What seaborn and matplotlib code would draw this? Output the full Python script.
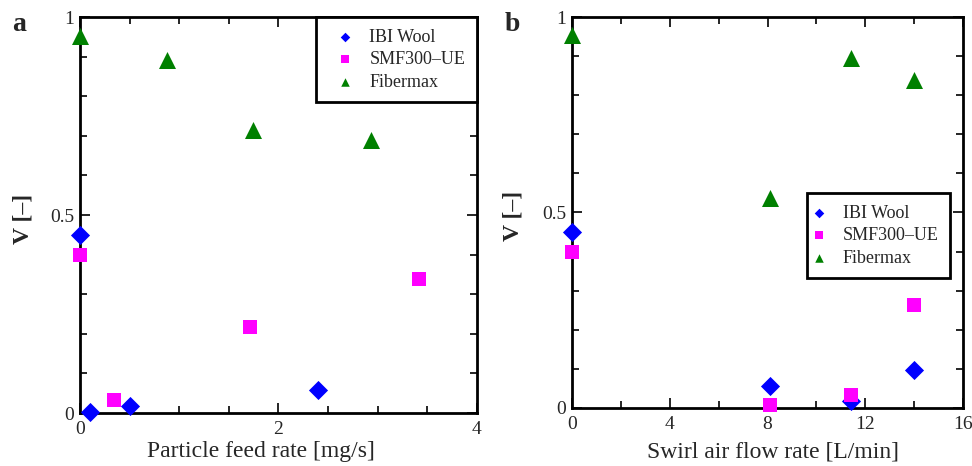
import matplotlib
matplotlib.use("Agg")
import matplotlib.pyplot as plt
from matplotlib.ticker import MultipleLocator, FuncFormatter
import seaborn as sns
import pandas as pd

# Panel a: particle feed rate [mg/s]
feed_ibi_x = [0.0, 0.10, 0.50, 2.40]
feed_ibi_v = [0.449, 0.003, 0.018, 0.059]
feed_smf_x = [0.0, 0.34, 1.71, 3.42]
feed_smf_v = [0.398, 0.032, 0.218, 0.339]
feed_fib_x = [0.0, 0.88, 1.74, 2.93]
feed_fib_v = [0.951, 0.892, 0.714, 0.689]

# Panel b: swirl air flow rate [L/min]
swirl_ibi_x = [0.0, 8.1, 11.4, 14.0]
swirl_ibi_v = [0.449, 0.055, 0.017, 0.098]
swirl_smf_x = [0.0, 8.1, 11.4, 14.0]
swirl_smf_v = [0.398, 0.007, 0.032, 0.264]
swirl_fib_x = [0.0, 8.1, 11.4, 14.0]
swirl_fib_v = [0.953, 0.536, 0.894, 0.838]

materials = ["IBI Wool", "SMF300\u2013UE", "Fibermax"]
colors = {"IBI Wool": "#0000ff", "SMF300\u2013UE": "#ff00ff", "Fibermax": "#008000"}
markers = {"IBI Wool": "D", "SMF300\u2013UE": "s", "Fibermax": "^"}
sizes = {"IBI Wool": 95, "SMF300\u2013UE": 110, "Fibermax": 150}


def frame(xs, vs):
    rows = []
    for m, x, v in zip(materials, xs, vs):
        rows += [{"material": m, "x": a, "V": b} for a, b in zip(x, v)]
    return pd.DataFrame(rows)


df_a = frame([feed_ibi_x, feed_smf_x, feed_fib_x], [feed_ibi_v, feed_smf_v, feed_fib_v])
df_b = frame([swirl_ibi_x, swirl_smf_x, swirl_fib_x], [swirl_ibi_v, swirl_smf_v, swirl_fib_v])

sns.set_style("ticks")
plt.rcParams["font.family"] = ["Liberation Serif", "DejaVu Serif"]

fig = plt.figure(figsize=(9.72, 4.66), dpi=100)
ax_a = fig.add_axes([0.0823, 0.1137, 0.4084, 0.8498])
ax_b = fig.add_axes([0.5885, 0.1245, 0.4023, 0.8390])


def draw(ax, df):
    for m in materials:
        sub = df[df["material"] == m]
        sns.scatterplot(data=sub, x="x", y="V", ax=ax, marker=markers[m],
                        color=colors[m], s=sizes[m], linewidth=0, label=m,
                        clip_on=False, zorder=3)


def style(ax, xmax, xmajor, xminor):
    ax.set_xlim(0, xmax)
    ax.set_ylim(0, 1)
    ax.xaxis.set_major_locator(MultipleLocator(xmajor))
    ax.xaxis.set_minor_locator(MultipleLocator(xminor))
    ax.yaxis.set_major_locator(MultipleLocator(0.5))
    ax.yaxis.set_minor_locator(MultipleLocator(0.1))
    fmt = FuncFormatter(lambda v, p: f"{v:g}")
    ax.xaxis.set_major_formatter(fmt)
    ax.yaxis.set_major_formatter(fmt)
    ax.tick_params(which="both", direction="in", top=True, right=True,
                   labelsize=14, width=1.2, color="black")
    ax.tick_params(which="major", length=7)
    ax.tick_params(which="minor", length=5)
    ax.tick_params(axis="x", which="major", pad=6)
    ax.tick_params(axis="y", which="major", pad=4)
    for sp in ax.spines.values():
        sp.set_linewidth(2)
        sp.set_color("black")
        sp.set_visible(True)
    ax.set_ylabel("V [\u2013]", fontsize=17, fontweight="bold")


draw(ax_a, df_a)
style(ax_a, 4, 2, 0.5)
ax_a.set_xlabel("Particle feed rate [mg/s]", fontsize=17)
ax_a.xaxis.set_label_coords(0.456, -0.07)
ax_a.yaxis.set_label_coords(-0.118, 0.49)

draw(ax_b, df_b)
style(ax_b, 16, 4, 2)
ax_b.set_xlabel("Swirl air flow rate [L/min]", fontsize=17)
ax_b.xaxis.set_label_coords(0.515, -0.085)
ax_b.yaxis.set_label_coords(-0.125, 0.49)


def legend(ax, borderpad, handlelength, handletextpad, **kw):
    leg = ax.legend(fontsize=13, markerscale=0.5, frameon=True, fancybox=False,
                    edgecolor="black", framealpha=1, labelspacing=0.3,
                    borderpad=borderpad, handlelength=handlelength,
                    handletextpad=handletextpad, **kw)
    leg.get_frame().set_linewidth(2)
    return leg


legend(ax_a, 0.65, 1.93, 0.37, loc="upper right", borderaxespad=0)
legend(ax_b, 0.65, 0.1, 1.25, loc="upper left", bbox_to_anchor=(0.60, 0.55),
       borderaxespad=0)

fig.text(0.012, 0.975, "a", fontsize=20, fontweight="bold", va="top", ha="left")
fig.text(0.519, 0.975, "b", fontsize=20, fontweight="bold", va="top", ha="left")

fig.savefig("out.png", dpi=100)
